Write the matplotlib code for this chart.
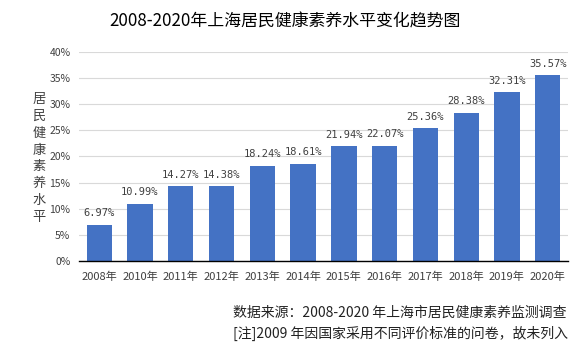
import matplotlib
matplotlib.use("Agg")
import matplotlib.pyplot as plt

plt.rcParams['font.family'] = ['Noto Sans CJK SC', 'DejaVu Sans']

years = ['2008年', '2010年', '2011年', '2012年', '2013年', '2014年',
         '2015年', '2016年', '2017年', '2018年', '2019年', '2020年']
values = [6.97, 10.99, 14.27, 14.38, 18.24, 18.61,
          21.94, 22.07, 25.36, 28.38, 32.31, 35.57]
y_ticks = [0, 5, 10, 15, 20, 25, 30, 35, 40]

title = '2008-2020年上海居民健康素养水平变化趋势图'
ylabel = '居民健康素养水平'
notes = ['数据来源：2008-2020 年上海市居民健康素养监测调查',
         '[注]2009 年因国家采用不同评价标准的问卷，故未列入']

fig = plt.figure(figsize=(5.71, 3.56), dpi=100)
ax = fig.add_axes([0.138, 0.267, 0.857, 0.587])

x = range(len(years))
ax.bar(x, values, width=0.62, color='#4472C4', zorder=3)

for i, v in enumerate(values):
    ax.text(i, v + 1.2, f'{v:.2f}%', ha='center', va='bottom',
            fontsize=7.5, family='DejaVu Sans Mono', color='#404040')

ax.set_xlim(-0.5, len(years) - 0.5)
ax.set_ylim(0, 40)
ax.set_yticks(y_ticks)
ax.set_yticklabels([f'{t}%' for t in y_ticks])
ax.set_xticks(list(x))
ax.set_xticklabels(years)
ax.tick_params(axis='both', length=0, labelsize=7.5, colors='#404040')
ax.tick_params(axis='x', labelsize=8, pad=8)
ax.tick_params(axis='y', pad=6)
ax.grid(axis='y', color='#d9d9d9', linewidth=0.8, zorder=0)
for s in ['top', 'right', 'left']:
    ax.spines[s].set_visible(False)
ax.spines['bottom'].set_color('black')
ax.spines['bottom'].set_linewidth(1.0)
ax.spines['bottom'].set_zorder(4)

fig.text(0.5, 0.94, title, ha='center', va='center', fontsize=12.2, color='black')
fig.text(0.068, 0.555, '\n'.join(ylabel), ha='center', va='center',
         fontsize=9.5, color='#404040', linespacing=1.38)

fig.text(0.408, 0.12, notes[0], ha='left', va='center', fontsize=10, color='#222222')
fig.text(0.408, 0.062, notes[1], ha='left', va='center', fontsize=10, color='#222222')

fig.savefig('out.png', dpi=100)
